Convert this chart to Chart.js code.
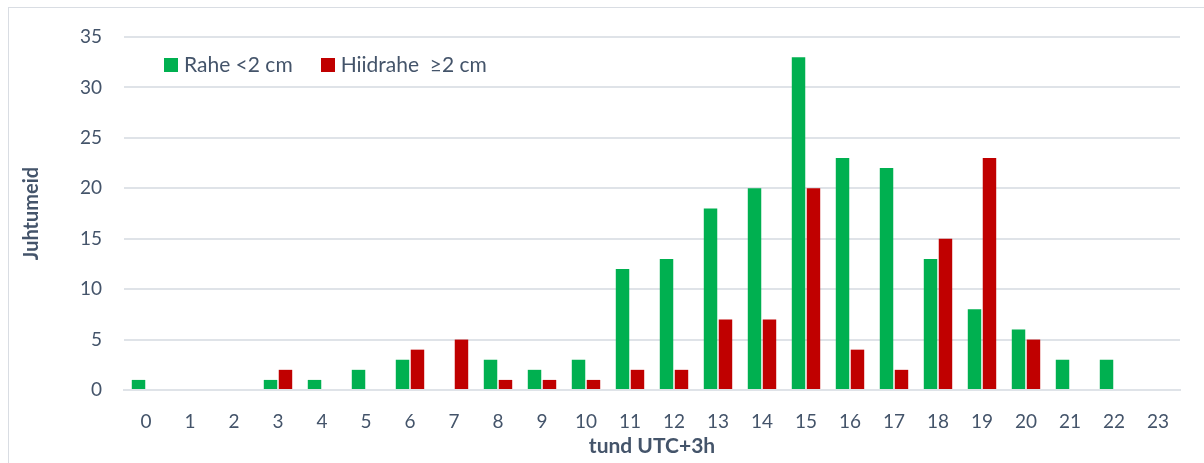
<!DOCTYPE html>
<html>
<head>
<meta charset="utf-8">
<script src="https://cdn.jsdelivr.net/npm/chart.js@4"></script>
<style>
  html, body { margin:0; padding:0; background:#fff; }
  #wrap { position:relative; width:1204px; height:463px; overflow:hidden; font-family:Lato, sans-serif; }
  #frame { position:absolute; left:8px; top:7px; width:1300px; height:600px; border:1px solid #d9dde3; box-sizing:border-box; }
  #legend { position:absolute; left:164px; top:51px; display:flex; gap:28px; color:#44546A; font-size:21px; }
  #legend span.sw { display:inline-block; width:14px; height:14px; margin-right:6px; vertical-align:0px; }
  canvas { position:absolute; left:0; top:0; }
</style>
</head>
<body>
<div id="wrap">
  <div id="frame"></div>
  <canvas id="c" width="1204" height="463"></canvas>
  <div id="legend">
    <div><span class="sw" style="background:#00B050"></span>Rahe &lt;2 cm</div>
    <div><span class="sw" style="background:#C00000"></span>Hiidrahe &nbsp;≥2 cm</div>
  </div>
</div>
<script>
// hours of day
const HOURS = ['0','1','2','3','4','5','6','7','8','9','10','11','12','13','14','15','16','17','18','19','20','21','22','23'];
// Rahe <2 cm
const RAHE = [1,0,0,1,1,2,3,0,3,2,3,12,13,18,20,33,23,22,13,8,6,3,3,0];
// Hiidrahe >=2 cm
const HIIDRAHE = [0,0,0,2,0,0,4,5,1,1,1,2,2,7,7,20,4,2,15,23,5,0,0,0];

const TXT = '#44546A';
const GRID = '#dfe3e8';

new Chart(document.getElementById('c'), {
  type: 'bar',
  data: {
    labels: HOURS,
    datasets: [
      { label:'Rahe <2 cm', data:RAHE, backgroundColor:'#00B050', categoryPercentage:0.68, barPercentage:0.9 },
      { label:'Hiidrahe  ≥2 cm', data:HIIDRAHE, backgroundColor:'#C00000', categoryPercentage:0.68, barPercentage:0.9 }
    ]
  },
  options: {
    responsive:false, animation:false,
    layout: { padding: { left:20, top:37, right:24, bottom:0 } },
    plugins: { legend:{ display:false }, tooltip:{ enabled:false } },
    scales: {
      y: {
        min:0, max:35,
        ticks: { stepSize:5, color:TXT, font:{ family:'Lato', size:19 }, padding:22 },
        grid: { color:GRID, lineWidth:2, drawTicks:false },
        border: { display:false },
        title: { display:true, text:'Juhtumeid', color:TXT, font:{ family:'Lato', size:20, weight:'bold' }, padding:0 },
        afterFit: s => { s.width = 104; }
      },
      x: {
        ticks: { color:TXT, font:{ family:'Lato', size:19 }, padding:12 },
        grid: { display:false },
        border: { color:GRID, width:2 },
        title: { display:true, text:'tund UTC+3h', color:TXT, font:{ family:'Lato', size:21, weight:'bold' }, padding:{ top:0 } },
        afterFit: s => { s.height = 73; }
      }
    }
  }
});
</script>
</body>
</html>
